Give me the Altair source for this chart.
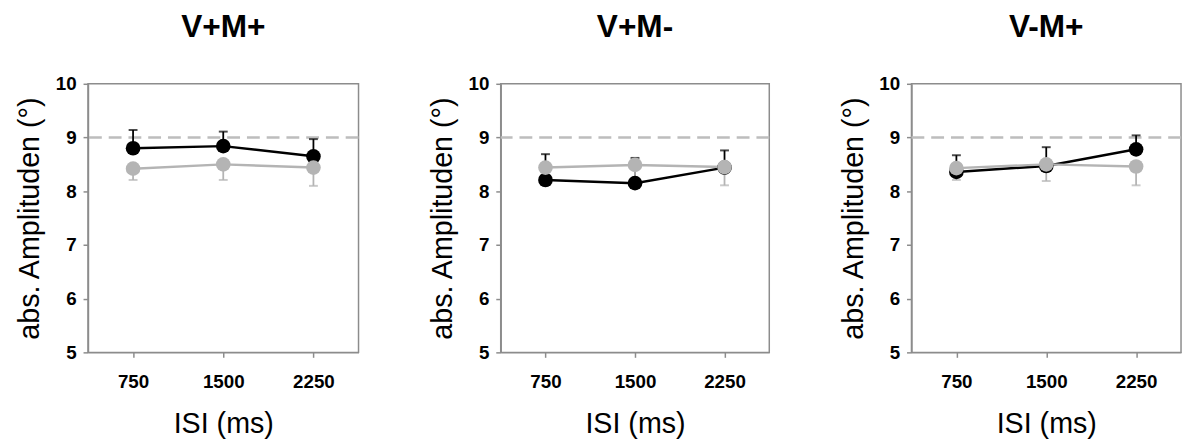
import altair as alt
import pandas as pd

# ---- data ----
ISI = ["750", "1500", "2250"]
TITLES = ["V+M+", "V+M-", "V-M+"]
BLACK_MEAN = [[8.80, 8.84, 8.65], [8.21, 8.15, 8.44], [8.36, 8.47, 8.78]]
BLACK_UPPER = [[9.14, 9.11, 8.97], [8.69, 8.62, 8.76], [8.67, 8.82, 9.04]]
GRAY_MEAN = [[8.42, 8.50, 8.44], [8.44, 8.49, 8.45], [8.43, 8.50, 8.46]]
GRAY_LOWER = [[8.21, 8.21, 8.10], [8.20, 8.21, 8.11], [8.21, 8.19, 8.11]]
REFERENCE = [9]
Y_TICKS = [5, 6, 7, 8, 9, 10]

# ---- style ----
FONT = "Liberation Sans"
BLACK = "#000000"
GRAY = "#b4b4b4"
FRAME = "#8c8c8c"
DASH = "#bdbdbd"
WIDTHS = [274, 272, 273]
HEIGHT = 272


def panel(i):
    rows = []
    for j, isi in enumerate(ISI):
        rows.append({"isi": isi, "series": "black",
                     "val": BLACK_MEAN[i][j], "err": BLACK_UPPER[i][j]})
    for j, isi in enumerate(ISI):
        rows.append({"isi": isi, "series": "gray",
                     "val": GRAY_MEAN[i][j], "err": GRAY_LOWER[i][j]})
    df = pd.DataFrame(rows)

    x = alt.X("isi:O", sort=ISI,
              scale=alt.Scale(type="point", padding=0.5),
              axis=alt.Axis(title="ISI (ms)"))
    yscale = alt.Scale(domain=[5, 10], nice=False, zero=False)
    yaxis = alt.Axis(title="abs. Amplituden (°)", values=Y_TICKS)
    color = alt.Color("series:N",
                      scale=alt.Scale(domain=["black", "gray"], range=[BLACK, GRAY]),
                      legend=None)

    ref = alt.Chart(pd.DataFrame({"ref": REFERENCE})).mark_rule(
        color=DASH, strokeDash=[13, 7], strokeWidth=2.5
    ).encode(y=alt.Y("ref:Q", scale=yscale, axis=yaxis))

    base = alt.Chart(df)
    err = base.mark_rule(strokeWidth=1.8).encode(
        x=x, y=alt.Y("val:Q", scale=yscale, axis=yaxis), y2="err:Q", color=color)
    caps = base.mark_tick(size=9, thickness=2).encode(
        x=x, y=alt.Y("err:Q", scale=yscale, axis=yaxis), color=color)
    line = base.mark_line(strokeWidth=2.5).encode(
        x=x, y=alt.Y("val:Q", scale=yscale, axis=yaxis), color=color)
    pts = base.mark_circle(size=220, opacity=1).encode(
        x=x, y=alt.Y("val:Q", scale=yscale, axis=yaxis), color=color)

    return alt.layer(ref, err, caps, line, pts).properties(
        width=WIDTHS[i], height=HEIGHT,
        title=alt.TitleParams(TITLES[i], fontSize=32, fontWeight="bold", font=FONT,
                              baseline="top", offset=31, anchor="middle", color="#000"),
    )


chart = alt.hconcat(*[panel(i) for i in range(3)], spacing=68).properties(
    padding={"left": 7, "top": 0, "right": 0, "bottom": 0}
).configure_view(
    stroke=FRAME, strokeWidth=1.5
).configure_axis(
    grid=False, domainColor=FRAME, domainWidth=1.5, tickColor=FRAME, tickWidth=1.5,
    labelFont=FONT, labelFontWeight="bold", labelFontSize=19, labelColor="#000",
    titleFont=FONT, titleFontWeight="normal", titleColor="#000",
).configure_axisX(
    labelAngle=0, tickSize=5, labelPadding=16, titlePadding=18, titleFontSize=29,
).configure_axisY(
    tickSize=5, labelPadding=7, minExtent=32, maxExtent=32, titlePadding=12,
    titleFontSize=29,
)

chart.save("out.html", embed_options={"renderer": "svg", "actions": False})
